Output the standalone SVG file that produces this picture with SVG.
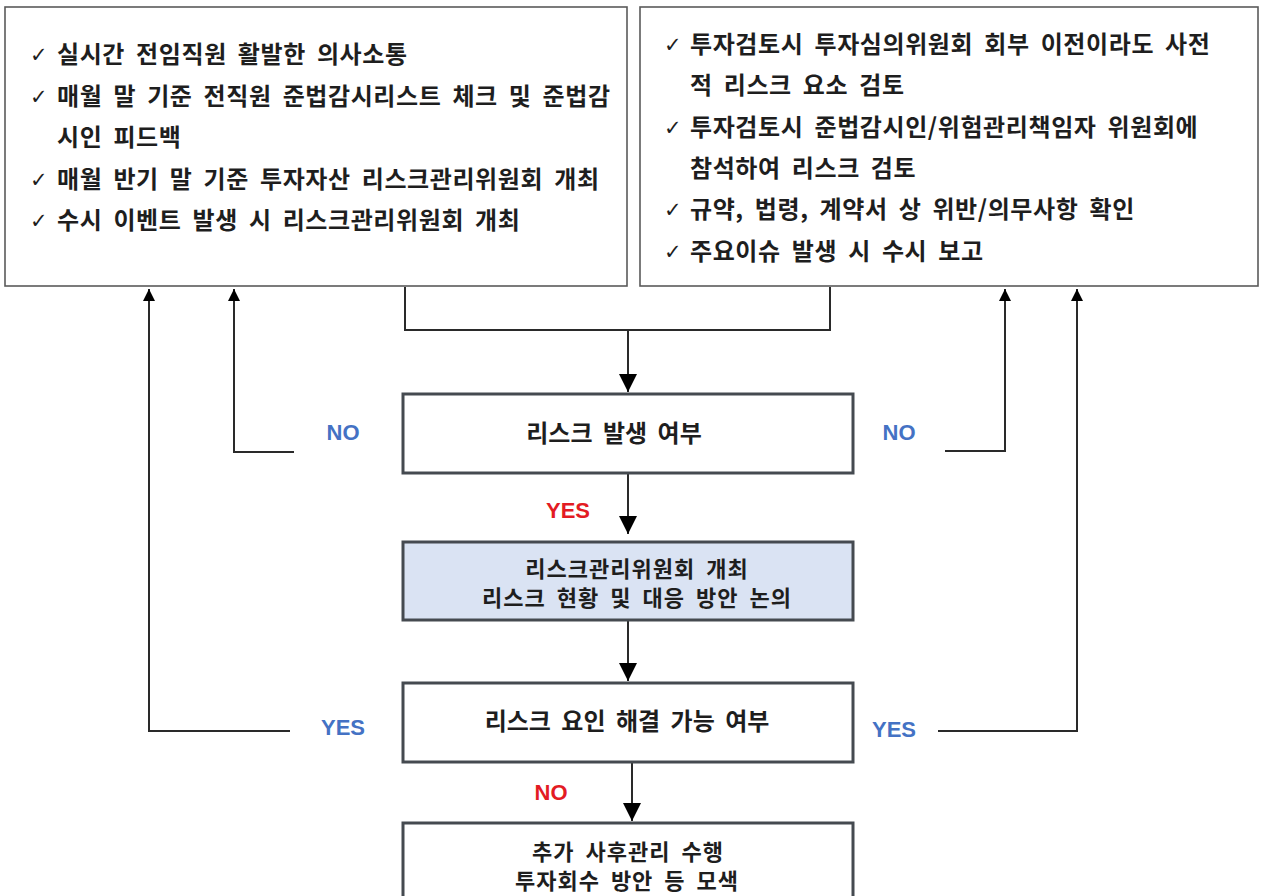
<svg xmlns="http://www.w3.org/2000/svg" width="1261" height="896" viewBox="0 0 1261 896">
  <style>
    .bg { fill: #ffffff; }
    .topbox { fill: #ffffff; stroke: #5a5a5a; stroke-width: 1.6; }
    .box { fill: #ffffff; stroke: #454a50; stroke-width: 3; }
    .box.blue { fill: #dae3f3; }
    .kr { font-family: "Noto Sans CJK KR", "Noto Sans", sans-serif; font-weight: bold; font-size: 24px; fill: #1e1e1e; }
    .item { letter-spacing: 0.6px; word-spacing: 5px; }
    .center { text-anchor: middle; word-spacing: 5px; }
    .two { font-size: 22px; letter-spacing: 1px; }
    .chk { font-family: "DejaVu Sans", sans-serif; font-size: 21px; fill: #1e1e1e; }
    .lbl { font-family: "Liberation Sans", Arial, sans-serif; font-weight: bold; font-size: 22px; text-anchor: middle; }
    .blueTxt { fill: #4472c4; }
    .redTxt { fill: #e31b23; }
    .conn { fill: none; stroke: #2a2a2a; stroke-width: 2; }
  </style>
  <defs>
    <marker id="bigArrow" markerUnits="userSpaceOnUse" viewBox="0 0 18 18" refX="18" refY="9" markerWidth="18" markerHeight="18" orient="auto">
      <path d="M0,0 L18,9 L0,18 z" fill="#000000"/>
    </marker>
    <marker id="smallArrow" markerUnits="userSpaceOnUse" viewBox="0 0 12 12" refX="12" refY="6" markerWidth="12" markerHeight="12" orient="auto">
      <path d="M0,0 L12,6 L0,12 z" fill="#000000"/>
    </marker>
  </defs>
  <rect class="bg" x="0" y="0" width="1261" height="896"/>

  <g id="connectors">
    <path class="conn" d="M405,287 V330 H830 V287"/>
    <path class="conn" d="M628,330 V392" marker-end="url(#bigArrow)"/>
    <path class="conn" d="M628,473 V534" marker-end="url(#bigArrow)"/>
    <path class="conn" d="M628,620 V681" marker-end="url(#bigArrow)"/>
    <path class="conn" d="M632,762 V821" marker-end="url(#bigArrow)"/>
    <path class="conn" d="M294,452 H234 V289" marker-end="url(#smallArrow)"/>
    <path class="conn" d="M945,451 H1005 V289" marker-end="url(#smallArrow)"/>
    <path class="conn" d="M290,731 H149 V289" marker-end="url(#smallArrow)"/>
    <path class="conn" d="M938,731 H1077 V289" marker-end="url(#smallArrow)"/>
  </g>

  <g id="labels">
    <text class="lbl blueTxt" x="343" y="440">NO</text>
    <text class="lbl blueTxt" x="899" y="440">NO</text>
    <text class="lbl redTxt" x="568" y="518">YES</text>
    <text class="lbl blueTxt" x="343" y="735">YES</text>
    <text class="lbl blueTxt" x="894" y="737">YES</text>
    <text class="lbl redTxt" x="551" y="800">NO</text>
  </g>

  <g id="monitoring-box">
    <rect class="topbox" x="5" y="7" width="622" height="279"/>
    <text class="chk" x="30" y="62">✓</text>
    <text class="kr item" x="57" y="63">실시간 전임직원 활발한 의사소통</text>
    <text class="chk" x="30" y="104">✓</text>
    <text class="kr item" x="57" y="105">매월 말 기준 전직원 준법감시리스트 체크 및 준법감</text>
    <text class="kr item" x="57" y="146">시인 피드백</text>
    <text class="chk" x="30" y="187">✓</text>
    <text class="kr item" x="57" y="188">매월 반기 말 기준 투자자산 리스크관리위원회 개최</text>
    <text class="chk" x="30" y="228">✓</text>
    <text class="kr item" x="57" y="229">수시 이벤트 발생 시 리스크관리위원회 개최</text>
  </g>

  <g id="review-box">
    <rect class="topbox" x="640" y="7" width="618" height="279"/>
    <text class="chk" x="664" y="52">✓</text>
    <text class="kr item" x="690" y="53">투자검토시 투자심의위원회 회부 이전이라도 사전</text>
    <text class="kr item" x="690" y="94">적 리스크 요소 검토</text>
    <text class="chk" x="664" y="135">✓</text>
    <text class="kr item" x="690" y="136">투자검토시 준법감시인/위험관리책임자 위원회에</text>
    <text class="kr item" x="690" y="177">참석하여 리스크 검토</text>
    <text class="chk" x="664" y="217">✓</text>
    <text class="kr item" x="690" y="218">규약, 법령, 계약서 상 위반/의무사항 확인</text>
    <text class="chk" x="664" y="259">✓</text>
    <text class="kr item" x="690" y="260">주요이슈 발생 시 수시 보고</text>
  </g>

  <g id="risk-occurrence">
    <rect class="box" x="403" y="394" width="450" height="79"/>
    <text class="kr center" x="614" y="442">리스크 발생 여부</text>
  </g>

  <g id="risk-committee">
    <rect class="box blue" x="403" y="542" width="450" height="78"/>
    <text class="kr center two" x="637" y="577">리스크관리위원회 개최</text>
    <text class="kr center two" x="637" y="606">리스크 현황 및 대응 방안 논의</text>
  </g>

  <g id="risk-resolvable">
    <rect class="box" x="403" y="683" width="450" height="79"/>
    <text class="kr center" x="627" y="730">리스크 요인 해결 가능 여부</text>
  </g>

  <g id="follow-up">
    <rect class="box" x="403" y="823" width="450" height="90"/>
    <text class="kr center two" x="628" y="860">추가 사후관리 수행</text>
    <text class="kr center two" x="627" y="889">투자회수 방안 등 모색</text>
  </g>
</svg>
